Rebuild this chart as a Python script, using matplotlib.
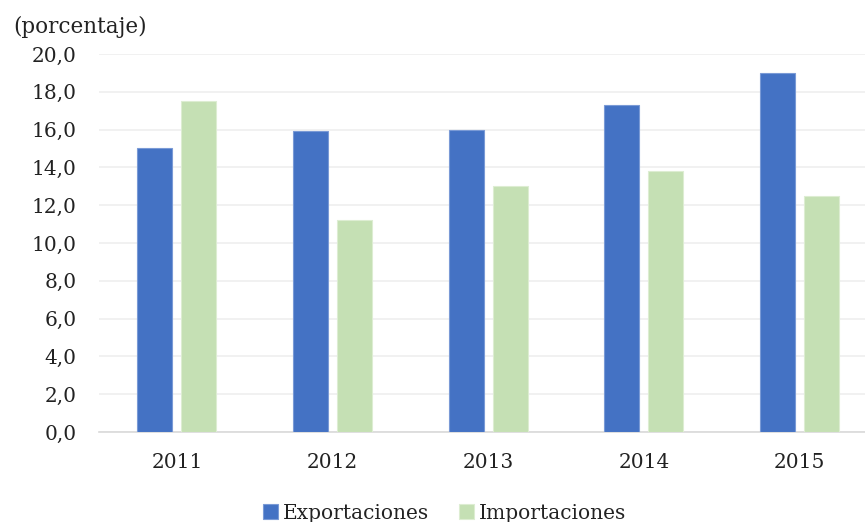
import numpy as np
import matplotlib.pyplot as plt

years = ['2011', '2012', '2013', '2014', '2015']
exportaciones = [15.0, 15.9, 16.0, 17.3, 19.0]
importaciones = [17.5, 11.2, 13.0, 13.8, 12.5]

plt.rcParams['font.family'] = ['DejaVu Serif']

fig = plt.figure(figsize=(8.65, 5.22), dpi=100)
ax = fig.add_axes([0.1145, 0.1724, 0.8855, 0.7242])

x = np.arange(len(years))
w = 0.225
off = 0.1415
ax.bar(x - off, exportaciones, w, color='#4472C4', edgecolor='#7A9AD6', linewidth=0.8,
       label='Exportaciones', zorder=3)
ax.bar(x + off, importaciones, w, color='#C5E0B4', edgecolor='#DDEDD2', linewidth=0.8,
       label='Importaciones', zorder=3)

ax.set_xlim(-0.5, 4.42)
ax.set_ylim(0, 20)
ax.set_yticks(np.arange(0, 21, 2))
ax.set_yticklabels([f'{v:.1f}'.replace('.', ',') for v in np.arange(0, 21, 2)])
ax.set_xticks(x)
ax.set_xticklabels(years)
ax.grid(axis='y', color='#EFEFEF', linewidth=1.2, zorder=0)
ax.set_axisbelow(True)
for s in ['top', 'right', 'left']:
    ax.spines[s].set_visible(False)
ax.spines['bottom'].set_color('#D9D9D9')
ax.spines['bottom'].set_linewidth(1.2)
ax.tick_params(axis='both', length=0, labelsize=14.5, colors='#222222')
ax.tick_params(axis='x', pad=15)
ax.tick_params(axis='y', pad=16)

fig.text(0.015, 0.948, '(porcentaje)', fontsize=15.5, color='#222222', va='center')

fig.legend(loc='center', bbox_to_anchor=(0.514, 0.017), ncol=2, frameon=False,
           fontsize=14.5, handlelength=0.75, handleheight=0.75, handletextpad=0.25,
           columnspacing=1.5, labelcolor='#222222')

fig.savefig('out.png', dpi=100)
